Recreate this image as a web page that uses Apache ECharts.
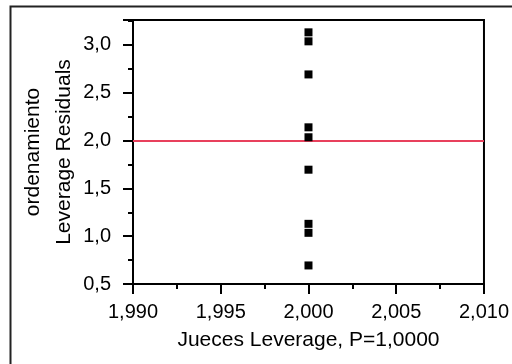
<!DOCTYPE html>
<html>
<head>
<meta charset="utf-8">
<script src="https://cdn.jsdelivr.net/npm/echarts@6/dist/echarts.min.js"></script>
<style>
html,body{margin:0;padding:0;background:#fff;}
#chart{width:512px;height:364px;}
</style>
</head>
<body>
<div id="chart"></div>
<script>
// Data
var xValues = [2.000, 2.000, 2.000, 2.000, 2.000, 2.000, 2.000, 2.000, 2.000];
var yValues = [3.131, 3.037, 2.691, 2.138, 2.034, 1.695, 1.129, 1.035, 0.694];
var referenceLine = 2.0;
var xTicks = [1.990, 1.995, 2.000, 2.005, 2.010];
var yTicks = [0.5, 1.0, 1.5, 2.0, 2.5, 3.0];
var xTitle = 'Jueces Leverage, P=1,0000';
var yTitle = 'ordenamiento\nLeverage Residuals';

var points = xValues.map(function (x, i) { return [x, yValues[i]]; });
var FONT = '"Liberation Sans", Arial, sans-serif';

var chart = echarts.init(document.getElementById('chart'), null, {renderer: 'canvas'});
chart.setOption({
  animation: false,
  backgroundColor: '#fff',
  graphic: [{
    type: 'rect', left: 8, top: 4, z: -10,
    shape: {width: 600, height: 500},
    style: {fill: 'none', stroke: '#222', lineWidth: 2}
  }],
  grid: {
    left: 133, top: 20, right: 19, bottom: 80,
    show: true, borderColor: '#000', borderWidth: 2, backgroundColor: 'transparent'
  },
  xAxis: {
    type: 'value',
    min: xTicks[0], max: xTicks[xTicks.length - 1], interval: 0.005,
    name: xTitle, nameLocation: 'middle', nameGap: 46, nameMoveOverlap: false,
    nameTextStyle: {fontFamily: FONT, fontSize: 21, color: '#000'},
    axisLine: {show: true, lineStyle: {color: '#000', width: 2}},
    axisTick: {show: true, inside: false, length: 10, lineStyle: {color: '#000', width: 2}},
    minorTick: {show: true, splitNumber: 2, length: 5, lineStyle: {color: '#000', width: 2}},
    splitLine: {show: false},
    axisLabel: {
      margin: 18, fontFamily: FONT, fontSize: 20, color: '#000',
      formatter: function (v) { return v.toFixed(3).replace('.', ','); }
    }
  },
  yAxis: {
    type: 'value',
    min: yTicks[0], max: 3.26, interval: 0.5,
    name: yTitle, nameLocation: 'middle', nameGap: 53, nameRotate: 90, nameMoveOverlap: false,
    nameTextStyle: {fontFamily: FONT, fontSize: 21, color: '#000', lineHeight: 31},
    axisLine: {show: true, lineStyle: {color: '#000', width: 2}},
    axisTick: {show: true, inside: false, length: 10, lineStyle: {color: '#000', width: 2}},
    minorTick: {show: true, splitNumber: 2, length: 5, lineStyle: {color: '#000', width: 2}},
    splitLine: {show: false},
    axisLabel: {
      margin: 22, fontFamily: FONT, fontSize: 20, color: '#000', showMaxLabel: false,
      formatter: function (v) { return v.toFixed(1).replace('.', ','); }
    }
  },
  series: [{
    type: 'scatter',
    data: points,
    symbol: 'rect',
    symbolSize: 8,
    itemStyle: {color: '#000', opacity: 1},
    z: 5,
    markLine: {
      silent: true,
      symbol: ['none', 'none'],
      label: {show: false},
      lineStyle: {color: '#e8405c', width: 2, type: 'solid', opacity: 1},
      data: [{yAxis: referenceLine}],
      z: 3
    }
  }]
});
</script>
</body>
</html>
